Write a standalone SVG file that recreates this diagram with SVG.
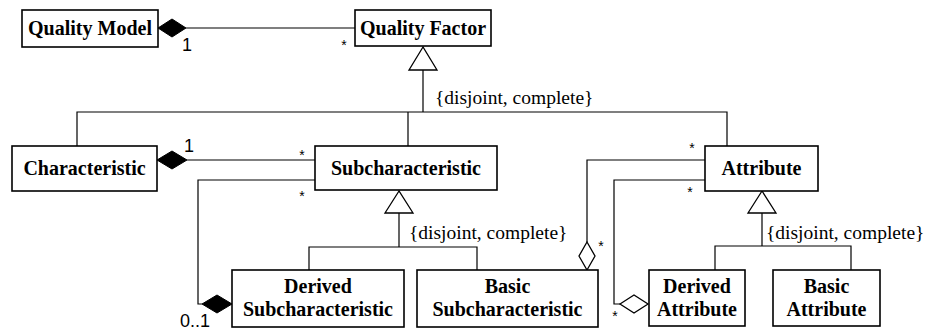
<svg xmlns="http://www.w3.org/2000/svg" width="925" height="331" viewBox="0 0 925 331">
<style>
.box{fill:#fff;stroke:#000;stroke-width:1.6}
.ln{fill:none;stroke:#000;stroke-width:1.2}
.fd{fill:#000;stroke:#000;stroke-width:1}
.od{fill:#fff;stroke:#000;stroke-width:1.3}
.t{font-family:'Liberation Serif','Times New Roman',Tinos,'DejaVu Serif',serif;font-weight:bold;font-size:20px;text-anchor:middle;fill:#000}
.c{font-family:'Liberation Serif','Times New Roman',Tinos,'DejaVu Serif',serif;font-size:19.5px;fill:#000}
.m{font-family:'Liberation Sans',Arial,Arimo,sans-serif;font-size:18px;fill:#000}
.s{font-family:'Liberation Sans',Arial,Arimo,sans-serif;font-size:14px;text-anchor:middle;fill:#000}
</style>
<rect width="925" height="331" fill="#fff"/>
<g id="connectors">
  <line class="ln" x1="186" y1="28" x2="355" y2="28"/>
  <polygon class="fd" points="158,28 172,19 186,28 172,37"/>
  <text class="m" x="182" y="51">1</text>
  <text class="s" x="344" y="50">*</text>

  <path class="ln" d="M423,70 V112 M77,146 V112 H727 V146 M408,112 V146"/>
  <polygon class="od" points="423,47 409,70 437,70"/>
  <text class="c" x="435" y="104">{disjoint, complete}</text>

  <line class="ln" x1="187" y1="160" x2="315" y2="160"/>
  <polygon class="fd" points="157,160 172,151 187,160 172,169"/>
  <text class="m" x="184" y="152">1</text>
  <text class="s" x="302" y="160">*</text>

  <path class="ln" d="M315,180 H198 V304 H202"/>
  <polygon class="fd" points="202,304 217,295 232,304 217,313"/>
  <text class="s" x="302" y="201">*</text>
  <text class="m" x="180" y="327">0..1</text>

  <path class="ln" d="M399,213 V247 M309,270 V247 H477 V270"/>
  <polygon class="od" points="399,191 385,213 413,213"/>
  <text class="c" x="409" y="239">{disjoint, complete}</text>

  <path class="ln" d="M705,160 H587 V242"/>
  <polygon class="od" points="587,242 595,256 587,270 579,256"/>
  <text class="s" x="692" y="153">*</text>
  <text class="s" x="601" y="251">*</text>

  <path class="ln" d="M705,180 H614 V304 H620"/>
  <polygon class="od" points="620,304 634,295 648,304 634,313"/>
  <text class="s" x="690" y="197">*</text>
  <text class="s" x="615" y="321">*</text>

  <path class="ln" d="M762,213 V246 M715,270 V246 H851 V270"/>
  <polygon class="od" points="762,191 748,213 776,213"/>
  <text class="c" x="766" y="239">{disjoint, complete}</text>
</g>
<g id="quality-model"><rect class="box" x="22" y="10" width="136" height="37"/><text class="t" x="90" y="35">Quality Model</text></g>
<g id="quality-factor"><rect class="box" x="355" y="10" width="136" height="36"/><text class="t" x="423" y="35">Quality Factor</text></g>
<g id="characteristic"><rect class="box" x="12" y="146" width="145" height="45"/><text class="t" x="84.5" y="175">Characteristic</text></g>
<g id="subcharacteristic"><rect class="box" x="315" y="146" width="182" height="44"/><text class="t" x="406" y="175">Subcharacteristic</text></g>
<g id="attribute"><rect class="box" x="705" y="146" width="113" height="45"/><text class="t" x="761.5" y="175">Attribute</text></g>
<g id="derived-subcharacteristic"><rect class="box" x="232" y="270" width="172" height="57"/><text class="t" x="318" y="293">Derived</text><text class="t" x="318" y="316">Subcharacteristic</text></g>
<g id="basic-subcharacteristic"><rect class="box" x="417" y="270" width="181" height="57"/><text class="t" x="507.5" y="293">Basic</text><text class="t" x="507.5" y="316">Subcharacteristic</text></g>
<g id="derived-attribute"><rect class="box" x="649" y="270" width="96" height="56"/><text class="t" x="697" y="293">Derived</text><text class="t" x="697" y="316">Attribute</text></g>
<g id="basic-attribute"><rect class="box" x="773" y="270" width="107" height="56"/><text class="t" x="826.5" y="293">Basic</text><text class="t" x="826.5" y="316">Attribute</text></g>
</svg>
